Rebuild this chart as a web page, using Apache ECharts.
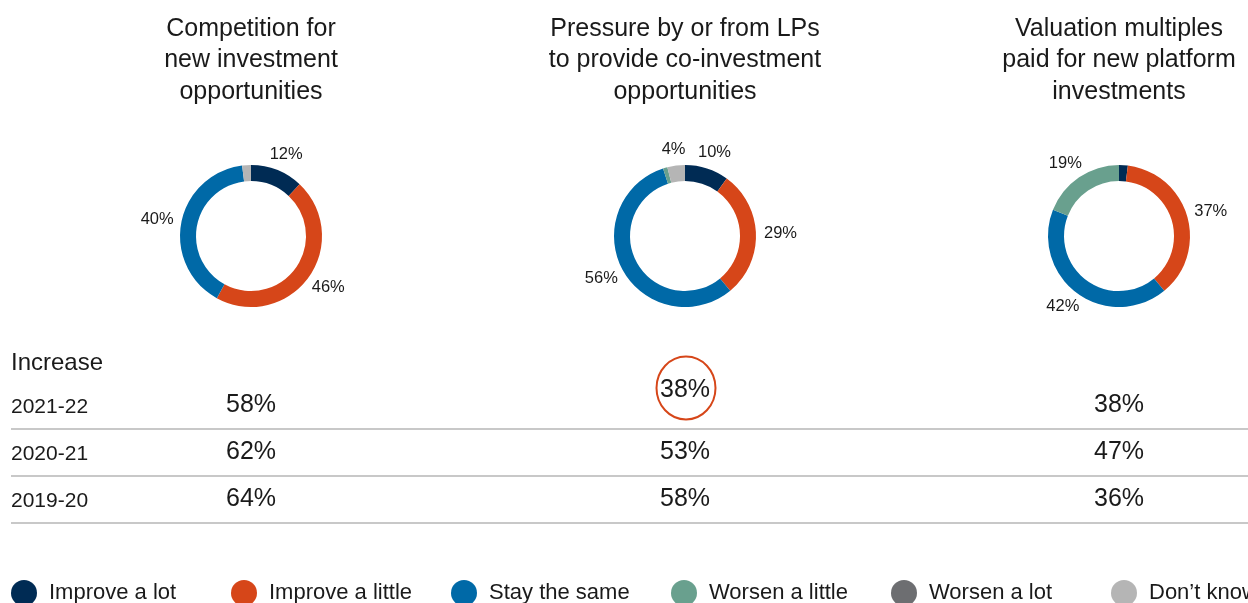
<!DOCTYPE html>
<html>
<head>
<meta charset="utf-8">
<script src="https://cdn.jsdelivr.net/npm/echarts@6/dist/echarts.min.js"></script>
<style>
  html, body { margin: 0; padding: 0; background: #ffffff; }
  #chart { width: 1248px; height: 603px; }
</style>
</head>
<body>
<div id="chart"></div>
<script>
// Answer categories, in the order they run clockwise round each ring
const categories = ['Improve a lot', 'Improve a little', 'Stay the same', 'Worsen a little', 'Worsen a lot', 'Don\u2019t know'];
const palette = ['#002b54', '#d64619', '#0069a7', '#69a08e', '#6d6e71', '#b5b5b5'];

// Question headings above each ring
const questions = [
  'Competition for\nnew investment\nopportunities',
  'Pressure by or from LPs\nto provide co-investment\nopportunities',
  'Valuation multiples\npaid for new platform\ninvestments'
];

// Share of respondents per answer (%)
const competitionShares = [12, 46, 40, 0, 0, 2];
const lpPressureShares  = [10, 29, 56, 1, 0, 4];
const valuationShares   = [2, 37, 42, 19, 0, 0];

// "Increase" share by survey period (%)
const periods = ['2021-22', '2020-21', '2019-20'];
const competitionIncrease = [58, 62, 64];
const lpPressureIncrease  = [38, 53, 58];
const valuationIncrease   = [38, 47, 36];

// ---- layout ----
const FONT = "'Liberation Sans', Arial, sans-serif";
const TEXT = '#1a1a1a';
const colX = [251, 685, 1119];
const PIE_Y = 236;
const R_IN = 55, R_OUT = 71;
const LABEL_GAP = 8;
const LABEL_MIN = 4;           // smaller slices carry no label
const rowY = [405, 452, 499];
const highlight = { col: 1, row: 0 };
const LEGEND_LEFT = 11, LEGEND_PITCH = 220;

const shareSets = [competitionShares, lpPressureShares, valuationShares];
const increaseSets = [competitionIncrease, lpPressureIncrease, valuationIncrease];

// Place each slice label just outside the ring, along the slice's mid angle
function placeLabel(s, p) {
  const vals = shareSets[s];
  const total = vals.reduce((a, b) => a + b, 0);
  let before = 0;
  for (let i = 0; i < p.dataIndex; i++) before += vals[i];
  const ang = (before + vals[p.dataIndex] / 2) / total * Math.PI * 2;
  const sx = Math.sin(ang), sy = -Math.cos(ang);
  const w = p.labelRect.width, h = p.labelRect.height;
  const d = R_OUT + LABEL_GAP;
  return {
    x: colX[s] + sx * d + sx * w / 2,
    y: PIE_Y + sy * d + sy * h / 2,
    align: 'center',
    verticalAlign: 'middle'
  };
}

function txt(x, y, text, size, align) {
  return {
    type: 'text', x: x, y: y, silent: true,
    style: {
      text: text, fill: TEXT, fontSize: size, fontFamily: FONT,
      align: align, textAlign: align, verticalAlign: 'middle', textVerticalAlign: 'middle'
    }
  };
}

// Table under the rings
const graphics = [];
graphics.push(txt(11, 363, 'Increase', 24, 'left'));
periods.forEach((p, r) => {
  graphics.push(txt(11, rowY[r] + 2, p, 21, 'left'));
  graphics.push({
    type: 'line', silent: true,
    shape: { x1: 11, y1: rowY[r] + 24, x2: 1248, y2: rowY[r] + 24 },
    style: { stroke: '#c8c8c8', lineWidth: 2 }
  });
  increaseSets.forEach((vals, c) => {
    const hl = (c === highlight.col && r === highlight.row);
    graphics.push(txt(colX[c], hl ? rowY[r] - 15 : rowY[r], vals[r] + '%', 25, 'center'));
    if (hl) {
      graphics.push({
        type: 'ellipse', silent: true,
        shape: { cx: colX[c] + 1, cy: rowY[r] - 17, rx: 29.5, ry: 31.5 },
        style: { fill: 'none', stroke: '#d64619', lineWidth: 2 }
      });
    }
  });
});

// One legend block per category, laid out on an even pitch
const legends = categories.map((name, i) => ({
  data: [name],
  left: LEGEND_LEFT + i * LEGEND_PITCH,
  top: 580,
  padding: 0,
  orient: 'horizontal',
  icon: 'circle',
  itemWidth: 26,
  itemHeight: 26,
  selectedMode: false,
  textStyle: { fontSize: 22, color: TEXT, fontFamily: FONT, padding: [0, 0, 0, 7] }
}));

const chart = echarts.init(document.getElementById('chart'), null, { renderer: 'canvas' });
chart.setOption({
  animation: false,
  color: palette,
  title: questions.map((q, i) => ({
    text: q,
    left: colX[i],
    top: 13,
    textAlign: 'center',
    padding: 0,
    textStyle: { fontSize: 25, lineHeight: 31.5, fontWeight: 'normal', color: TEXT, fontFamily: FONT }
  })),
  legend: legends,
  graphic: graphics,
  series: shareSets.map((vals, s) => ({
    type: 'pie',
    name: questions[s],
    center: [colX[s], PIE_Y],
    radius: [R_IN, R_OUT],
    startAngle: 90,
    clockwise: true,
    avoidLabelOverlap: false,
    silent: true,
    emphasis: { disabled: true },
    label: { position: 'outside', formatter: '{c}%', fontSize: 16.5, color: TEXT, fontFamily: FONT },
    labelLine: { show: false },
    labelLayout: function (p) { return placeLabel(s, p); },
    data: vals.map((v, i) => ({ name: categories[i], value: v, label: { show: v >= LABEL_MIN } }))
  }))
});
</script>
</body>
</html>
